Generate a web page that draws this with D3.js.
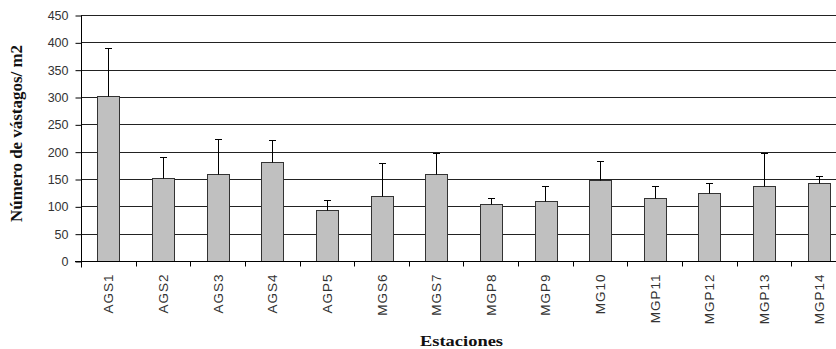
<!DOCTYPE html>
<html>
<head>
<meta charset="utf-8">
<script src="https://cdn.jsdelivr.net/npm/d3@7"></script>
<style>
  html, body { margin: 0; padding: 0; background: #fff; }
  svg { display: block; }
</style>
</head>
<body>
<svg id="chart" width="836" height="349"></svg>
<script>
const categories = ["AGS1","AGS2","AGS3","AGS4","AGP5","MGS6","MGS7","MGP8","MGP9","MG10","MGP11","MGP12","MGP13","MGP14"];
const means = [302, 151, 159, 182, 93, 118, 159, 104, 110, 149, 116, 124, 138, 142];
const upperErr = [389, 190, 224, 222, 112, 179, 197, 115, 137, 183, 138, 142, 197, 155];
const yTicks = [0, 50, 100, 150, 200, 250, 300, 350, 400, 450];
const yTitle = "Número de vástagos/ m2";
const xTitle = "Estaciones";

const svg = d3.select("#chart");
const mLeft = 81, mRight = 846, mTop = 15, mBottom = 261;

const x = d3.scaleBand().domain(categories).range([mLeft, mRight]).paddingInner(0.6).paddingOuter(0.3);
const y = d3.scaleLinear().domain([0, 450]).range([mBottom, mTop]);

// gridlines
svg.append("g").selectAll("line").data(yTicks.filter(d => d > 0)).join("line")
  .attr("x1", mLeft).attr("x2", mRight)
  .attr("y1", d => Math.round(y(d)) + 0.5).attr("y2", d => Math.round(y(d)) + 0.5)
  .attr("stroke", "#222").attr("stroke-width", 1);

// y axis
const yAxis = d3.axisLeft(y).tickValues(yTicks).tickSize(6).tickPadding(7).tickFormat(d3.format("d"));
const gy = svg.append("g").attr("transform", `translate(${mLeft + 0.5},0.5)`).call(yAxis);
gy.select(".domain").attr("stroke", "#000").attr("d", `M0,${mTop}V${mBottom + 6}`);
gy.selectAll(".tick line").attr("stroke", "#000");
gy.selectAll(".tick text").attr("font-family", "Liberation Sans, Arial, sans-serif")
  .attr("font-size", 12.5).attr("fill", "#333");

// bars
svg.append("g").selectAll("rect").data(categories).join("rect")
  .attr("x", (d) => Math.round(x(d)) + 0.5)
  .attr("width", Math.round(x.bandwidth()))
  .attr("y", (d, i) => Math.round(y(means[i])) + 0.5)
  .attr("height", (d, i) => mBottom - Math.round(y(means[i])))
  .attr("fill", "#c0c0c0").attr("stroke", "#333").attr("stroke-width", 1);

// error bars (upper only)
const eg = svg.append("g").attr("stroke", "#000").attr("stroke-width", 1);
categories.forEach((c, i) => {
  const cx = Math.round(x(c) + x.bandwidth() / 2) + 0.5;
  const yt = Math.round(y(upperErr[i])) + 0.5;
  eg.append("line").attr("x1", cx).attr("x2", cx).attr("y1", Math.round(y(means[i])) + 0.5).attr("y2", yt);
  eg.append("line").attr("x1", cx - 3.5).attr("x2", cx + 3.5).attr("y1", yt).attr("y2", yt);
});

// x axis
const gx = svg.append("g").attr("transform", `translate(0,${mBottom + 0.5})`);
gx.append("line").attr("x1", mLeft - 6).attr("x2", mRight).attr("y1", 0).attr("y2", 0).attr("stroke", "#000");
const bounds = categories.map(c => x(c) - x.step() * x.paddingInner() / 2).concat([mRight]);
gx.selectAll("line.tk").data(bounds).join("line").attr("class", "tk")
  .attr("x1", d => Math.round(d) + 0.5).attr("x2", d => Math.round(d) + 0.5)
  .attr("y1", 0).attr("y2", 5).attr("stroke", "#000");
gx.selectAll("text").data(categories).join("text")
  .attr("transform", d => `translate(${x(d) + x.bandwidth() / 2 + 5},${12}) rotate(-90)`)
  .attr("text-anchor", "end")
  .attr("font-family", "Liberation Sans, Arial, sans-serif")
  .attr("font-size", 13.5).attr("letter-spacing", 1).attr("fill", "#333")
  .text(d => d);

// axis titles
svg.append("text")
  .attr("transform", `translate(22,133.5) rotate(-90)`)
  .attr("text-anchor", "middle")
  .attr("font-family", "Liberation Serif, Times New Roman, serif")
  .attr("font-weight", "bold").attr("font-size", 16)
  .attr("textLength", 177).attr("lengthAdjust", "spacingAndGlyphs")
  .attr("fill", "#111")
  .text(yTitle);

svg.append("text")
  .attr("x", 420).attr("y", 346)
  .attr("font-family", "Liberation Serif, Times New Roman, serif")
  .attr("font-weight", "bold").attr("font-size", 14)
  .attr("textLength", 83).attr("lengthAdjust", "spacingAndGlyphs")
  .attr("fill", "#111")
  .text(xTitle);
</script>
</body>
</html>
